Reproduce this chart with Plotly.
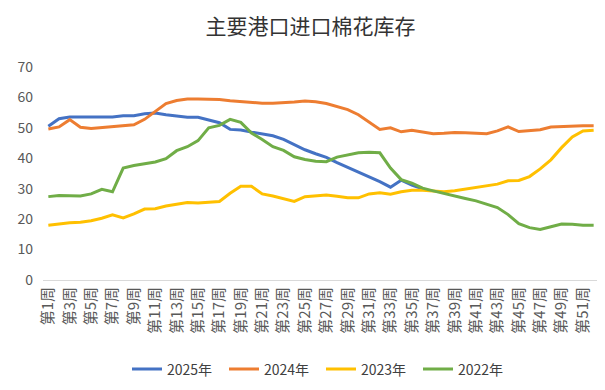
import plotly.graph_objects as go

weeks = [f"第{i}周" for i in range(1, 53)]
tick_labels = [f"第{i}周" for i in range(1, 53, 2)]

s2025 = [50.5, 53.0, 53.6, 53.6, 53.5, 53.5, 53.6, 54.0, 54.0, 54.6, 54.9, 54.3, 53.8,
         53.5, 53.5, 52.6, 51.7, 49.5, 49.3, 48.6, 48.0, 47.4, 46.2, 44.6, 42.8, 41.5,
         40.3, 38.6, 37.0, 35.6, 34.0, 32.3, 30.5, 32.8, 31.2, 30.0]
s2024 = [49.6, 50.3, 52.7, 50.2, 49.8, 50.1, 50.5, 50.8, 51.0, 52.8, 55.5, 58.0, 59.0,
         59.5, 59.5, 59.4, 59.3, 58.9, 58.6, 58.3, 58.1, 58.1, 58.2, 58.5, 58.8, 58.6,
         58.0, 57.0, 56.0, 54.3, 52.0, 49.5, 50.0, 48.7, 49.2, 48.6, 48.1, 48.2, 48.5,
         48.4, 48.3, 48.1, 49.0, 50.3, 48.8, 49.2, 49.4, 50.3, 50.5, 50.6, 50.7, 50.7]
s2023 = [18.0, 18.5, 18.8, 19.0, 19.5, 20.3, 21.4, 20.4, 21.7, 23.3, 23.4, 24.3, 25.0,
         25.5, 25.3, 25.5, 25.8, 28.5, 30.8, 30.8, 28.3, 27.6, 26.8, 25.8, 27.4, 27.6,
         27.9, 27.5, 27.0, 27.0, 28.3, 28.7, 28.2, 29.0, 29.5, 29.5, 29.2, 29.0, 29.3,
         29.8, 30.4, 31.0, 31.5, 32.6, 32.7, 34.0, 36.5, 39.5, 43.5, 47.0, 49.0, 49.2]
s2022 = [27.4, 27.8, 27.7, 27.6, 28.3, 29.8, 29.0, 36.8, 37.6, 38.1, 38.8, 39.9, 42.5,
         43.8, 45.8, 50.0, 50.8, 52.8, 51.8, 48.3, 46.2, 43.8, 42.6, 40.5, 39.6, 39.0,
         38.9, 40.4, 41.1, 41.8, 42.0, 41.8, 36.8, 33.0, 31.8, 30.2, 29.3, 28.4, 27.6,
         26.8, 26.0, 25.0, 23.8, 21.5, 18.5, 17.2, 16.6, 17.5, 18.4, 18.3, 18.0, 18.0]

series = [
    ("2025年", s2025, "#4472C4"),
    ("2024年", s2024, "#ED7D31"),
    ("2023年", s2023, "#FFC000"),
    ("2022年", s2022, "#70AD47"),
]

fig = go.Figure()
for name, vals, color in series:
    fig.add_trace(go.Scatter(
        x=weeks[:len(vals)], y=vals, name=name, mode="lines",
        line=dict(color=color, width=3),
    ))

fig.update_layout(
    width=605, height=390,
    margin=dict(l=35, r=14, t=59, b=112),
    paper_bgcolor="white", plot_bgcolor="white",
    font=dict(family="Noto Sans CJK SC, Noto Sans, sans-serif", color="#595959"),
    title=dict(text="主要港口进口棉花库存", x=0.5, xanchor="center", y=0.953, yanchor="middle",
               font=dict(size=21, color="#333333")),
    showlegend=True,
    legend=dict(orientation="h", x=0.5, xanchor="center", y=-0.42, yanchor="middle",
                font=dict(size=14, color="#404040"), itemwidth=30, bgcolor="rgba(0,0,0,0)",
                entrywidth=52, entrywidthmode="pixels"),
    xaxis=dict(
        type="category", categoryorder="array", categoryarray=weeks,
        tickmode="array", tickvals=tick_labels, ticktext=tick_labels,
        tickangle=-90, tickfont=dict(size=15, color="#595959"),
        showgrid=False, showline=True, linecolor="#D9D9D9", linewidth=1,
        ticks="", range=[-0.5, 51.5], automargin=False,
    ),
    yaxis=dict(
        range=[0, 70], dtick=10, showgrid=False, zeroline=False,
        showline=False, ticks="", tickfont=dict(size=14, color="#595959"),
        ticklabelstandoff=9, automargin=False,
    ),
)

fig.write_html("out.html")
